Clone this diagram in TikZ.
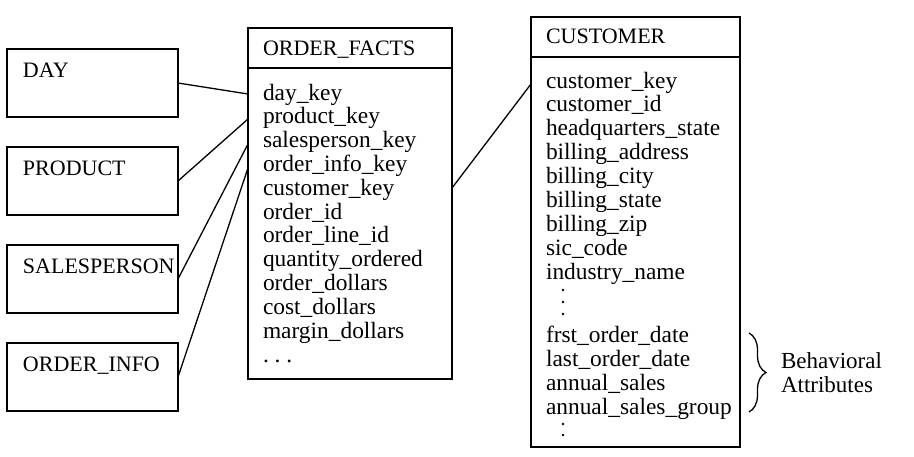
\documentclass[tikz,border=0pt]{standalone}
\usepackage{fontspec}
\setmainfont{Liberation Serif}
\usetikzlibrary{decorations.pathreplacing}
\begin{document}
\begin{tikzpicture}[x=1pt,y=-1pt,line width=1.3pt,
  every node/.style={font=\fontsize{23.4}{24}\selectfont, inner sep=0pt, outer sep=0pt},
  dimbox/.style={draw, rectangle, minimum width=171pt, minimum height=68pt, anchor=north west},
  tabhead/.style={draw, rectangle, line width=1.7pt, anchor=north west},
  tabbody/.style={draw, rectangle, anchor=north west},
  txt/.style={anchor=base west},
  captxt/.style={anchor=base west, font=\fontsize{22}{24}\selectfont},
  dotmark/.style={fill=black, circle, minimum size=2.8pt}]
\useasboundingbox (0,0) rectangle (914,456);
% dimension boxes
\node[dimbox] (day) at (7,49) {};
\node[captxt] (daylbl) at (23,77) {DAY};
\node[dimbox] (product) at (7,147) {};
\node[captxt] (productlbl) at (23,175) {PRODUCT};
\node[dimbox] (salesperson) at (7,245) {};
\node[captxt] (salespersonlbl) at (23,273) {SALESPERSON};
\node[dimbox] (orderinfo) at (7,343) {};
\node[captxt] (orderinfolbl) at (23,371) {ORDER\_INFO};
% ORDER_FACTS
\node[tabbody, minimum width=204pt, minimum height=311pt] (facts) at (248,68) {};
\node[tabhead, minimum width=204pt, minimum height=40pt] (factshead) at (248,28) {};
\node[captxt] (factstitle) at (263,55) {ORDER\_FACTS};
\foreach \t [count=\i from 0] in {day\_key, product\_key, salesperson\_key, order\_info\_key, customer\_key, order\_id, order\_line\_id, quantity\_ordered, order\_dollars, cost\_dollars, margin\_dollars}
  \node[txt] (f\i) at (263,{100+23.8*\i}) {\t};
\node[txt] (fdots) at (263,362) {.\ .\ .};
% CUSTOMER
\node[tabbody, minimum width=209pt, minimum height=390pt] (cust) at (531,57) {};
\node[tabhead, minimum width=209pt, minimum height=40pt] (custhead) at (531,17) {};
\node[captxt] (custtitle) at (546,43) {CUSTOMER};
\foreach \t [count=\i from 0] in {customer\_key, customer\_id, headquarters\_state, billing\_address, billing\_city, billing\_state, billing\_zip, sic\_code, industry\_name}
  \node[txt] (c\i) at (546,{88+23.9*\i}) {\t};
\foreach \t [count=\i from 0] in {frst\_order\_date, last\_order\_date, annual\_sales, annual\_sales\_group}
  \node[txt] (b\i) at (546,{342+24*\i}) {\t};
\node[dotmark] (d1) at (563,290) {};
\node[dotmark] (d2) at (563,302) {};
\node[dotmark] (d3) at (563,314) {};
\node[dotmark] (d4) at (563,424) {};
\node[dotmark] (d5) at (563,435) {};
% brace and label
\coordinate (bt) at (749,333);
\coordinate (bb) at (749,412);
\draw[decorate, decoration={brace, amplitude=17pt}] (bt) -- (bb);
\node[txt, font=\fontsize{23}{24}\selectfont] (beh1) at (781,368) {Behavioral};
\node[txt, font=\fontsize{23}{24}\selectfont] (beh2) at (781,392) {Attributes};
% connectors
\coordinate (fk1) at (248,94);
\coordinate (fk2) at (248,119);
\coordinate (fk3) at (248,144);
\coordinate (fk4) at (248,168);
\coordinate (fout) at (452,188);
\coordinate (cin) at (531,84);
\draw (day.east) -- (fk1);
\draw (product.east) -- (fk2);
\draw (salesperson.east) -- (fk3);
\draw (orderinfo.east) -- (fk4);
\draw (fout) -- (cin);
\end{tikzpicture}
\end{document}
